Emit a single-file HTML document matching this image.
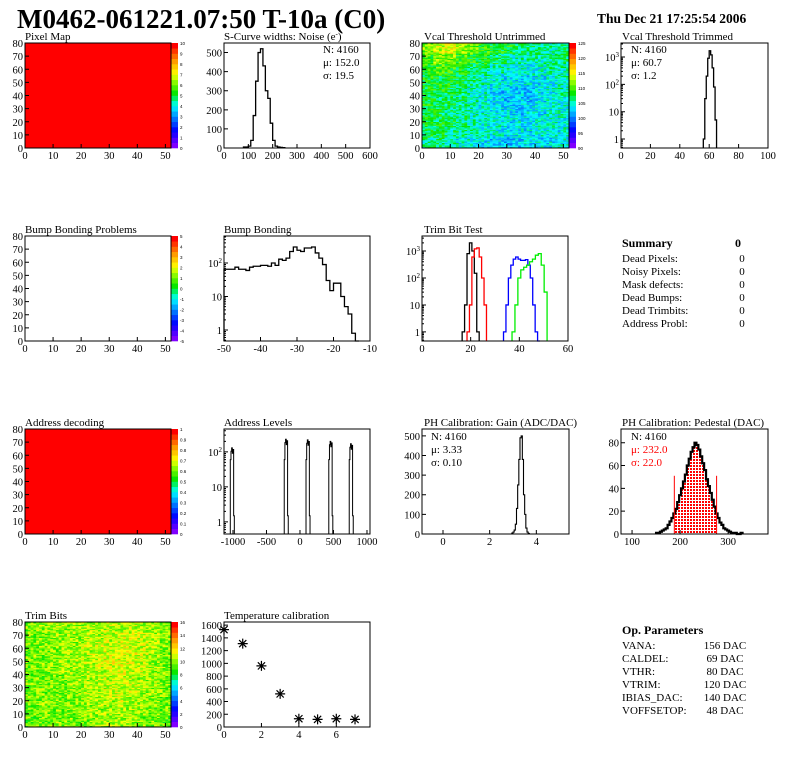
<!DOCTYPE html>
<html><head><meta charset="utf-8">
<style>
html,body{margin:0;padding:0;background:#fff;}
svg{display:block;font-family:"Liberation Serif",serif;}
</style></head>
<body>
<svg id="chart" width="796" height="772" viewBox="0 0 796 772" xmlns="http://www.w3.org/2000/svg">
<defs>
<pattern id="dots" width="3" height="3" patternUnits="userSpaceOnUse"><rect width="3" height="3" fill="#fff"/><rect width="2" height="2" fill="#f00"/></pattern>
</defs>
<text x="17" y="28" font-size="27" font-weight="bold">M0462-061221.07:50 T-10a (C0)</text>
<text x="597" y="23" font-size="13.5" font-weight="bold">Thu Dec 21 17:25:54 2006</text>
<g font-size="11">
<text x="622" y="247" font-weight="bold" font-size="12">Summary</text><text x="735" y="247" font-weight="bold" font-size="12">0</text>
<text x="622" y="262">Dead Pixels:</text><text x="742" y="262" text-anchor="middle">0</text>
<text x="622" y="275">Noisy Pixels:</text><text x="742" y="275" text-anchor="middle">0</text>
<text x="622" y="288">Mask defects:</text><text x="742" y="288" text-anchor="middle">0</text>
<text x="622" y="301">Dead Bumps:</text><text x="742" y="301" text-anchor="middle">0</text>
<text x="622" y="314">Dead Trimbits:</text><text x="742" y="314" text-anchor="middle">0</text>
<text x="622" y="327">Address Probl:</text><text x="742" y="327" text-anchor="middle">0</text>
</g>
<g font-size="11">
<text x="622" y="634" font-weight="bold" font-size="12">Op. Parameters</text>
<text x="622" y="649">VANA:</text><text x="725" y="649" text-anchor="middle">156 DAC</text>
<text x="622" y="662">CALDEL:</text><text x="725" y="662" text-anchor="middle">69 DAC</text>
<text x="622" y="675">VTHR:</text><text x="725" y="675" text-anchor="middle">80 DAC</text>
<text x="622" y="688">VTRIM:</text><text x="725" y="688" text-anchor="middle">120 DAC</text>
<text x="622" y="701">IBIAS_DAC:</text><text x="725" y="701" text-anchor="middle">140 DAC</text>
<text x="622" y="714">VOFFSETOP:</text><text x="725" y="714" text-anchor="middle">48 DAC</text>
</g>
</svg>
<script>
// ---- data ----
const scurveVals=[5,5,10,40,170,350,500,520,430,300,260,130,40,10,5,3,2];
const scurveLo=80, scurveW=10;
const vcalTrimVals=[1,30,200,900,1700,1200,400,80,5];
const vcalTrimLo=56;
const bumpVals=[65,65,65,75,65,65,60,75,80,80,85,85,80,100,85,130,120,140,220,300,240,220,280,280,300,200,140,90,30,15,25,25,10,5,3,0.8,0.3];
const bumpLo=-50;
const trimBlack=[1,10,800,2000,1000,150,1];
const trimBlackLo=16.5;
const trimRed=[1,10,600,1200,1300,600,100,10];
const trimRedLo=18.5;
const trimBlue=[1,10,100,300,500,600,500,450,450,480,300,100,10,1,0.3];
const trimBlueLo=33.5;
const trimGreen=[1,10,100,200,250,300,400,500,700,800,300,30];
const trimGreenLo=37;
const addrCenters=[-1010,-205,120,460,765];
const addrHeights=[130,230,220,200,170];
const gainVals=[5,10,20,50,130,250,380,490,500,380,200,100,30,10,3];
const gainLo=2.95, gainW=0.05;
const pedVals=[1,1,2,3,4,5,8,11,14,18,22,28,34,40,46,52,60,66,72,76,80,78,74,68,62,56,48,42,36,30,24,18,14,10,8,5,4,3,2,1,1,1,0,0,1];
const pedLo=150, pedW=4;
const tempX=[0,1,2,3,4,5,6,7];
const tempY=[1530,1310,960,520,130,120,130,120];
const vcalGrid=[
[111,113,114,112,110,108,107,107,106,105,105,104,105],
[109,111,111,109,108,107,106,105,104,104,104,104,105],
[108,109,108,107,106,105,104,104,103,103,103,104,104],
[107,107,107,106,105,104,103,102,102,102,102,103,104],
[107,107,106,105,104,103,102,101,101,101,102,103,104],
[107,106,106,105,104,103,102,101,101,101,102,103,103],
[107,106,105,105,104,103,102,102,101,102,102,103,103],
[107,106,106,105,104,103,103,102,102,102,103,103,103],
[106,106,105,105,104,103,103,102,102,102,103,103,103],
[105,105,104,103,103,102,101,100,101,102,102,102,103]];
const trimGrid=[
[9.8,10.2,10.2,10.2,10.2,10.3,10.3,10.6,10.6,10.6,10.3,10.2,9.8],
[9.8,9.8,10.2,10.2,10.3,10.3,10.6,10.8,11,11,10.8,10.3,9.8],
[9.8,9.8,9.8,10.2,10.3,10.6,10.8,11,11.2,11.2,10.8,10.3,9.8],
[9.8,9.8,9.8,10.2,10.3,10.6,10.8,11.2,11.2,11,10.8,10.3,9.8],
[9.8,9.8,9.8,10.2,10.3,10.3,10.8,10.8,11.2,11,10.8,10.3,9.8],
[9.8,9.8,9.8,9.8,10.2,10.3,10.6,10.8,10.8,10.8,10.3,10.2,9.8],
[9.8,9.8,9.8,9.8,10.2,10.3,10.3,10.8,10.8,10.8,10.3,10.2,9.8],
[9.8,9.8,9.8,9.8,9.8,10.2,10.3,10.3,10.6,10.3,10.2,9.8,9.8],
[9.5,9.8,9.8,9.8,9.8,10.2,10.2,10.3,10.3,10.3,10.2,9.8,9.8],
[9.5,9.5,9.8,9.8,9.8,9.8,10.2,10.2,10.3,10.2,9.8,9.8,9.5]];

const NS='http://www.w3.org/2000/svg';
const svg=document.getElementById('chart');
function mk(tag,attrs,parent){const e=document.createElementNS(NS,tag);for(const k in attrs)e.setAttribute(k,attrs[k]);(parent||svg).appendChild(e);return e;}
function pal(t){t=Math.max(0,Math.min(1,t));
 const st=[[0,[128,0,255]],[0.15,[0,0,255]],[0.3,[0,150,255]],[0.4,[0,255,255]],[0.52,[0,230,0]],[0.65,[160,255,0]],[0.72,[255,255,0]],[0.85,[255,150,0]],[1,[255,0,0]]];
 for(let i=1;i<st.length;i++){if(t<=st[i][0]){const a=st[i-1],b=st[i],f=(t-a[0])/(b[0]-a[0]);return 'rgb('+a[1].map((c,k)=>Math.round(c+(b[1][k]-c)*f)).join(',')+')';}}return 'rgb(255,0,0)';}
function panel(x0,x1,y0,y1,xmin,xmax,ymin,ymax,log){
 return {x0,x1,y0,y1,xmin,xmax,ymin,ymax,log,
 sx:v=>x0+(v-xmin)/(xmax-xmin)*(x1-x0),
 sy:v=>{if(log){v=Math.max(v,ymin);return y1-(Math.log10(v)-Math.log10(ymin))/(Math.log10(ymax)-Math.log10(ymin))*(y1-y0);}return y1-(v-ymin)/(ymax-ymin)*(y1-y0);}};}
function axes(p,g,xt,xl,yt,yl){
 const fr=mk('rect',{x:p.x0,y:p.y0,width:p.x1-p.x0,height:p.y1-p.y0,fill:'none',stroke:'#000','stroke-width':1},g);
 
 
 let d='';
 xt.forEach((v,i)=>{const x=p.sx(v);d+='M'+x+' '+p.y1+'v-4';
  const t=mk('text',{x:x,y:p.y1+11,'font-size':10.5,'text-anchor':'middle'},g);t.textContent=xl[i];
  
  });
 yt.forEach((v,i)=>{const y=p.sy(v);d+='M'+p.x0+' '+y+'h4';
  const t=mk('text',{x:p.x0-2,y:y+4,'font-size':10.5,'text-anchor':'end'},g);
  const s=String(yl[i]);
  if(s.indexOf('^')>0){const [b,e]=s.split('^');t.textContent=b;const ts=mk('tspan',{dy:-4,'font-size':7},t);ts.textContent=e;}
  else t.textContent=s;
  
  });
 if(p.log){for(let dec=-1;dec<4;dec++)for(let m=2;m<10;m++){const v=m*Math.pow(10,dec);if(v>p.ymin&&v<p.ymax)d+='M'+p.x0+' '+p.sy(v)+'h2';}}
 const tk=mk('path',{d:d,stroke:'#000',fill:'none','stroke-width':1},g);
 
 }
function title(g,x,y,s){const t=mk('text',{x:x,y:y,'font-size':11},g);t.textContent=s;
 
 return t;}
function hist(p,g,lo,w,vals,color,sw){
 let d='M'+p.sx(lo)+' '+p.y1;
 vals.forEach((v,i)=>{const y=p.sy(v);d+='L'+p.sx(lo+i*w)+' '+y+'L'+p.sx(lo+(i+1)*w)+' '+y;});
 d+='L'+p.sx(lo+vals.length*w)+' '+p.y1;
 const e=mk('path',{d:d,fill:'none',stroke:color,'stroke-width':sw||1.3},g);
 
 return e;}
function stats(g,x,y,lines,colors){lines.forEach((s,i)=>{const t=mk('text',{x:x,y:y+i*13,'font-size':11,fill:colors?colors[i]:'#000'},g);t.textContent=s;
 
 });}
function palette(g,x,y0,y1,labels){
 const n=20;for(let i=0;i<n;i++){const r=mk('rect',{x:x,y:y1-(i+1)*(y1-y0)/n,width:7,height:(y1-y0)/n+0.3,fill:pal(i/(n-1))},g);
  
  }
 labels.forEach((s,i)=>{const y=y1-i*(y1-y0)/(labels.length-1);const t=mk('text',{x:x+9,y:y+2,'font-size':4.5,'font-family':'Liberation Sans, sans-serif'},g);t.textContent=s;
  
  });}
function map2d(p,g,fn,vmin,vmax){
 const cw=(p.x1-p.x0)/52,ch=(p.y1-p.y0)/80;
 for(let i=0;i<52;i++)for(let j=0;j<80;j++){const v=fn(i,j);
  mk('rect',{x:p.x0+i*cw,y:p.y1-(j+1)*ch,width:cw+0.2,height:ch+0.2,fill:pal((v-vmin)/(vmax-vmin))},g);}}
// pixel texture (visual grain only)
function tex(i,j){let h=Math.imul(i*374761393+j*668265263,1274126177);h^=h>>>13;h=Math.imul(h,1103515245);h^=h>>>16;return ((h>>>0)%1000)/1000-0.5;}

const mapXt=[0,10,20,30,40,50],mapYt=[0,10,20,30,40,50,60,70,80];
function mapPanel(row,name,ttl,pl,fill){
 const g=mk('g',{});
 const off=row*193;const p=panel(25,171,43+off,148+off,0,52,0,80,false);
 title(g,25,40+off,ttl);
 if(fill)fill(p,g);
 palette(g,171,43+off,148+off,pl);
 axes(p,g,mapXt,mapXt,mapYt,mapYt);return p;}

mapPanel(0,'pixel-map-panel','Pixel Map',['0','1','2','3','4','5','6','7','8','9','10'],(p,g)=>{const r=mk('rect',{x:p.x0,y:p.y0,width:p.x1-p.x0,height:p.y1-p.y0,fill:'#ff0000'},g);});
mapPanel(1,'bump-problems-panel','Bump Bonding Problems',['-5','-4','-3','-2','-1','0','1','2','3','4','5'],null);
mapPanel(2,'address-decoding-panel','Address decoding',['0','0.1','0.2','0.3','0.4','0.5','0.6','0.7','0.8','0.9','1'],(p,g)=>{const r=mk('rect',{x:p.x0,y:p.y0,width:p.x1-p.x0,height:p.y1-p.y0,fill:'#ff0000'},g);});
mapPanel(3,'trim-bits-panel','Trim Bits',['0','2','4','6','8','10','12','14','16'],(p,g)=>map2d(p,g,(i,j)=>trimGrid[9-Math.floor(j/8)][Math.floor(i/4)]+tex(i,j)*3.2,0,16));

(function(){const g=mk('g',{});
 const p=panel(224,370,43,148,0,600,0,550,false);
 const t=title(g,224,40,'S-Curve widths: Noise (e');const s=mk('tspan',{dy:-4,'font-size':7},t);s.textContent='-';const s2=mk('tspan',{dy:4},t);s2.textContent=')';
 hist(p,g,scurveLo,scurveW,scurveVals,'#000');
 axes(p,g,[0,100,200,300,400,500,600],['0','100','200','300','400','500','600'],[0,100,200,300,400,500],['0','100','200','300','400','500']);
 stats(g,323,53,['N: 4160','\u03bc: 152.0','\u03c3: 19.5']);})();

(function(){const g=mk('g',{});
 const p=panel(422,569,43,148,0,52,0,80,false);
 title(g,424,40,'Vcal Threshold Untrimmed');
 map2d(p,g,(i,j)=>vcalGrid[9-Math.floor(j/8)][Math.floor(i/4)]+tex(i,j)*7,88,125);
 palette(g,569,43,148,['90','95','100','105','110','115','120','125']);
 axes(p,g,mapXt,mapXt,mapYt,mapYt);})();

(function(){const g=mk('g',{});
 const p=panel(621,768,43,148,0,100,0.47,3260,true);
 title(g,622,40,'Vcal Threshold Trimmed');
 hist(p,g,vcalTrimLo,1,vcalTrimVals,'#000');
 axes(p,g,[0,20,40,60,80,100],['0','20','40','60','80','100'],[1,10,100,1000],['1','10','10^2','10^3']);
 stats(g,631,53,['N: 4160','\u03bc: 60.7','\u03c3:  1.2']);})();

(function(){const g=mk('g',{});
 const p=panel(224,370,236,341,-50,-10,0.47,640,true);
 title(g,224,233,'Bump Bonding');
 hist(p,g,bumpLo,1,bumpVals,'#000');
 axes(p,g,[-50,-40,-30,-20,-10],['-50','-40','-30','-20','-10'],[1,10,100],['1','10','10^2']);})();

(function(){const g=mk('g',{});
 const p=panel(422,568,236,341,0,60,0.46,3600,true);
 title(g,424,233,'Trim Bit Test');
 hist(p,g,trimBlackLo,1,trimBlack,'#000');
 hist(p,g,trimRedLo,1,trimRed,'#f00');
 hist(p,g,trimBlueLo,1,trimBlue,'#00f');
 hist(p,g,trimGreenLo,1.2,trimGreen,'#0e0');
 axes(p,g,[0,20,40,60],['0','20','40','60'],[1,10,100,1000],['1','10','10^2','10^3']);})();

(function(){const g=mk('g',{});
 const p=panel(224,370,429,534,-1134,1045,0.45,450,true);
 title(g,224,426,'Address Levels');
 addrCenters.forEach((c,i)=>{const h=addrHeights[i];
  hist(p,g,c-30,10,[60,h*0.8,h,h*0.7,h*0.9,1.5],'#000',1);});
 axes(p,g,[-1000,-500,0,500,1000],['-1000','-500','0','500','1000'],[1,10,100],['1','10','10^2']);})();

(function(){const g=mk('g',{});
 const p=panel(422,569,429,534,-0.9,5.4,0,535,false);
 title(g,424,426,'PH Calibration: Gain (ADC/DAC)');
 hist(p,g,gainLo,gainW,gainVals,'#000',1.1);
 axes(p,g,[0,2,4],['0','2','4'],[0,100,200,300,400,500],['0','100','200','300','400','500']);
 stats(g,431,440,['N: 4160','\u03bc: 3.33','\u03c3: 0.10']);})();

(function(){const g=mk('g',{});
 const p=panel(621,768,429,534,77,383,0,92,false);
 title(g,622,426,'PH Calibration: Pedestal (DAC)');
 let d='M'+p.sx(188)+' '+p.y1;
 pedVals.forEach((v,i)=>{const a=pedLo+i*pedW,b=a+pedW;if(b<=188||a>=276)return;const y=p.sy(v);d+='L'+p.sx(Math.max(a,188))+' '+y+'L'+p.sx(Math.min(b,276))+' '+y;});
 d+='L'+p.sx(276)+' '+p.y1+'Z';
 const f=mk('path',{d:d,fill:'url(#dots)',stroke:'none'},g);
 hist(p,g,pedLo,pedW,pedVals,'#000',2.2);
 [188,276].forEach(x=>{const l=mk('line',{x1:p.sx(x),x2:p.sx(x),y1:p.y1,y2:p.sy(51),stroke:'#f00','stroke-width':1},g);
  
  });
 axes(p,g,[100,200,300],['100','200','300'],[0,20,40,60,80],['0','20','40','60','80']);
 stats(g,631,440,['N: 4160','\u03bc: 232.0','\u03c3: 22.0'],['#000','#f00','#f00']);})();

(function(){const g=mk('g',{});
 const p=panel(224,370,622,727,0,7.8,0,1650,false);
 title(g,224,619,'Temperature calibration');
 axes(p,g,[0,2,4,6],['0','2','4','6'],[0,200,400,600,800,1000,1200,1400,1600],['0','200','400','600','800','1000','1200','1400','1600']);
 tempX.forEach((xv,i)=>{const x=p.sx(xv),y=p.sy(tempY[i]);
  const m=mk('path',{d:`M${x-5} ${y}h10M${x} ${y-5}v10M${x-3.6} ${y-3.6}l7.2 7.2M${x-3.6} ${y+3.6}l7.2 -7.2`,stroke:'#000','stroke-width':1.2},g);
  
  });})();
</script>
</body></html>
